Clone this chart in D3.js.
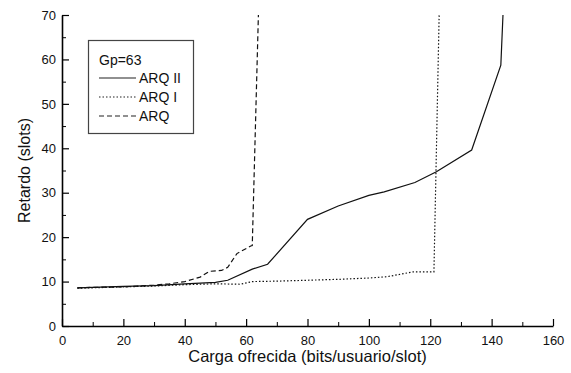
<!DOCTYPE html>
<html>
<head>
<meta charset="utf-8">
<script src="https://cdn.jsdelivr.net/npm/d3@7"></script>
<style>
  body { margin: 0; background: #fff; }
  svg { display: block; font-family: "Liberation Sans", Arial, sans-serif; }
</style>
</head>
<body>
<div id="chart"></div>
<script>
// carga ofrecida (bits/usuario/slot) vs retardo (slots), Gp=63
const arq2X = [5, 10, 20, 30, 40, 50, 54, 62, 67, 80, 90, 100, 105, 115, 122, 133.5, 143, 143.7];
const arq2Y = [8.6, 8.7, 8.9, 9.1, 9.5, 9.8, 10.3, 12.8, 13.9, 24, 27, 29.4, 30.2, 32.3, 34.7, 39.6, 58.7, 70];

const arq1X = [5, 10, 20, 30, 40, 50, 58, 62, 70, 80, 90, 100, 106, 114.5, 121.2, 122.9];
const arq1Y = [8.5, 8.6, 8.8, 9.0, 9.3, 9.5, 9.4, 10.0, 10.1, 10.3, 10.5, 10.8, 11.1, 12.2, 12.2, 70];

const arqX = [5, 10, 20, 30, 35, 40, 45, 48, 52, 54, 57, 61.5, 62, 64];
const arqY = [8.6, 8.7, 8.8, 9.2, 9.5, 10.0, 11.0, 12.3, 12.5, 13.2, 16.3, 18.0, 18.1, 70];

const xTicks = [0, 20, 40, 60, 80, 100, 120, 140, 160];
const yTicks = [0, 10, 20, 30, 40, 50, 60, 70];

const series = [
  {name: "ARQ II", x: arq2X, y: arq2Y, dash: null},
  {name: "ARQ I", x: arq1X, y: arq1Y, dash: "1.5,2"},
  {name: "ARQ", x: arqX, y: arqY, dash: "5,3"}
];

const width = 571, height = 373;
const margin = {top: 15, right: 18, bottom: 47, left: 62};

const x = d3.scaleLinear().domain([0, 160]).range([margin.left, width - margin.right]);
const y = d3.scaleLinear().domain([0, 70]).range([height - margin.bottom, margin.top]);

const svg = d3.select("#chart").append("svg")
  .attr("width", width)
  .attr("height", height);

// minor ticks
svg.append("g")
  .attr("transform", `translate(0,${y(0)})`)
  .call(d3.axisTop(x).tickValues(d3.range(10, 160, 20)).tickSize(4).tickFormat(""))
  .call(g => g.select(".domain").remove());
svg.append("g")
  .attr("transform", `translate(${x(0)},0)`)
  .call(d3.axisRight(y).tickValues(d3.range(5, 70, 10)).tickSize(4).tickFormat(""))
  .call(g => g.select(".domain").remove());

// x axis (ticks inward)
svg.append("g")
  .attr("transform", `translate(0,${y(0)})`)
  .call(d3.axisTop(x).tickValues(xTicks).tickSize(7).tickSizeOuter(0))
  .call(g => g.select(".domain").attr("stroke-width", 1.6))
  .call(g => g.selectAll(".tick line").attr("stroke-width", 1.2))
  .call(g => g.selectAll(".tick text")
    .attr("y", 19).attr("dy", 0)
    .attr("font-size", 13).attr("fill", "#111")
    .attr("font-family", "Liberation Sans, Arial, sans-serif"));

// y axis (ticks inward)
svg.append("g")
  .attr("transform", `translate(${x(0)},0)`)
  .call(d3.axisRight(y).tickValues(yTicks).tickSize(7).tickSizeOuter(0))
  .call(g => g.select(".domain").attr("stroke-width", 1.6))
  .call(g => g.selectAll(".tick line").attr("stroke-width", 1.2))
  .call(g => g.selectAll(".tick text")
    .attr("x", -6).attr("text-anchor", "end")
    .attr("font-size", 13).attr("fill", "#111")
    .attr("font-family", "Liberation Sans, Arial, sans-serif"));

// axis titles
svg.append("text")
  .attr("x", (x(0) + x(160)) / 2)
  .attr("y", 362)
  .attr("text-anchor", "middle")
  .attr("font-size", 16.5)
  .attr("fill", "#111")
  .text("Carga ofrecida (bits/usuario/slot)");

svg.append("text")
  .attr("transform", `translate(30,${(y(0) + y(70)) / 2}) rotate(-90)`)
  .attr("text-anchor", "middle")
  .attr("font-size", 16)
  .attr("fill", "#111")
  .text("Retardo (slots)");

// curves
const line = d3.line().x(d => x(d[0])).y(d => y(d[1]));
svg.append("g")
  .selectAll("path")
  .data(series)
  .join("path")
  .attr("d", s => line(s.x.map((v, i) => [v, s.y[i]])))
  .attr("fill", "none")
  .attr("stroke", "#111")
  .attr("stroke-width", 1.2)
  .attr("stroke-dasharray", s => s.dash);

// legend
const legend = svg.append("g");
legend.append("rect")
  .attr("x", 88.5).attr("y", 40.5)
  .attr("width", 105).attr("height", 93)
  .attr("fill", "#fff")
  .attr("stroke", "#444")
  .attr("stroke-width", 1.2);
legend.append("text")
  .attr("x", 99).attr("y", 65)
  .attr("font-size", 14).attr("fill", "#111")
  .text("Gp=63");
const item = legend.selectAll("g.item")
  .data(series)
  .join("g")
  .attr("class", "item")
  .attr("transform", (d, i) => `translate(0,${78 + i * 19})`);
item.append("line")
  .attr("x1", 99).attr("x2", 136)
  .attr("stroke", "#222")
  .attr("stroke-width", 1.1)
  .attr("stroke-dasharray", d => d.dash);
item.append("text")
  .attr("x", 139).attr("y", 5)
  .attr("font-size", 14).attr("fill", "#111")
  .text(d => d.name);
</script>
</body>
</html>
